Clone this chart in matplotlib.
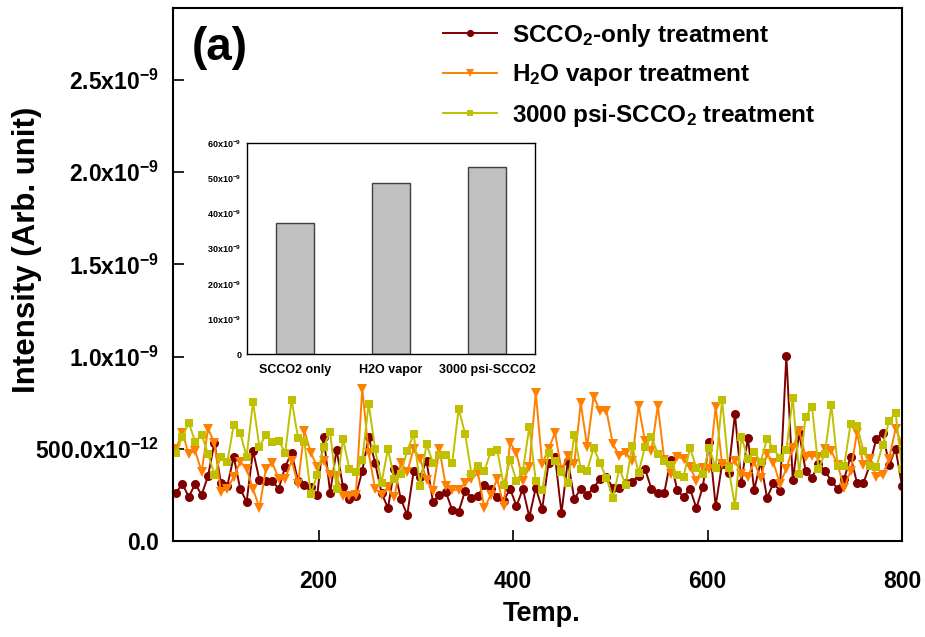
import numpy as np
import matplotlib
matplotlib.use("Agg")
import matplotlib.pyplot as plt

plt.rcParams['font.family'] = ['Liberation Sans', 'DejaVu Sans']
plt.rcParams['font.weight'] = 'bold'
plt.rcParams['mathtext.fontset'] = 'custom'
plt.rcParams['mathtext.rm'] = 'Liberation Sans:bold'
plt.rcParams['mathtext.bf'] = 'Liberation Sans:bold'
plt.rcParams['mathtext.it'] = 'Liberation Sans:bold:italic'
plt.rcParams['mathtext.default'] = 'rm'

# ---- data (intensity in units of 1e-12) ----
temp = np.linspace(53, 800, 114)
scco2_only = [261, 310, 239, 310, 250, 353, 533, 315, 299, 457, 283, 212, 489, 332, 326, 326,
              283, 402, 478, 326, 304, 293, 250, 565, 261, 495, 293, 228, 245, 380, 565, 424, 261,
              179, 391, 228, 141, 380, 348, 435, 212, 250, 266, 168, 158, 272, 234, 245, 304,
              283, 239, 217, 283, 190, 283, 130, 288, 174, 424, 457, 152, 435, 228, 283, 250,
              288, 337, 348, 288, 288, 315, 320, 353, 391, 283, 261, 261, 440, 277, 239, 283,
              179, 293, 538, 190, 418, 370, 690, 315, 560, 277, 429, 234, 315, 272, 1005, 332, 587,
              380, 342, 418, 380, 326, 283, 337, 457, 315, 315, 413, 555, 587, 413, 500, 299]
h2o_vapor = [500, 587, 473, 489, 375, 609, 533, 266, 283, 348, 429, 391, 283, 179, 391, 424,
             337, 337, 435, 310, 598, 478, 402, 435, 359, 353, 245, 245, 250, 826, 478, 283, 250,
             293, 239, 424, 375, 500, 446, 333, 272, 500, 299, 277, 277, 315, 337, 370, 179,
             250, 337, 190, 533, 478, 326, 402, 804, 418, 500, 587, 386, 462, 418, 750, 511,
             783, 707, 707, 527, 462, 478, 435, 734, 543, 489, 734, 440, 364, 457, 446, 402,
             326, 397, 391, 728, 418, 402, 435, 364, 348, 429, 342, 473, 424, 310, 391, 505, 598,
             457, 462, 457, 500, 489, 413, 288, 380, 587, 413, 446, 348, 359, 446, 609, 527]
psi3000 = [478, 565, 641, 538, 576, 473, 359, 457, 429, 630, 587, 457, 755, 511, 576, 538,
           543, 478, 766, 560, 538, 255, 359, 511, 592, 283, 554, 391, 375, 440, 745, 500, 315,
           500, 337, 364, 489, 582, 299, 527, 424, 467, 467, 424, 717, 582, 364, 408, 380,
           484, 495, 304, 440, 326, 380, 620, 326, 277, 478, 435, 375, 315, 576, 391, 380,
           505, 424, 342, 234, 391, 304, 516, 370, 511, 565, 473, 435, 413, 359, 348, 505,
           397, 364, 505, 397, 766, 397, 190, 565, 446, 484, 429, 554, 500, 451, 495, 777, 364,
           674, 728, 391, 473, 739, 408, 408, 636, 625, 489, 408, 402, 522, 652, 696, 391]
series_labels = ['SCCO$_{2}$-only treatment', 'H$_{2}$O vapor treatment', '3000 psi-SCCO$_{2}$ treatment']

yticks = [0, 0.5e-9, 1.0e-9, 1.5e-9, 2.0e-9, 2.5e-9]
ytick_labels = ['0.0', '500.0x10$^{-12}$', '1.0x10$^{-9}$', '1.5x10$^{-9}$', '2.0x10$^{-9}$', '2.5x10$^{-9}$']
xticks = [200, 400, 600, 800]

inset_cats = ['SCCO2 only', 'H2O vapor', '3000 psi-SCCO2']
inset_vals = [37.2e-9, 48.7e-9, 53.2e-9]
inset_yticks = [0, 10e-9, 20e-9, 30e-9, 40e-9, 50e-9, 60e-9]
inset_ytick_labels = ['0', '10x10$^{-9}$', '20x10$^{-9}$', '30x10$^{-9}$', '40x10$^{-9}$', '50x10$^{-9}$', '60x10$^{-9}$']

colors = ['#800000', '#FF8000', '#C0C000']
markers = ['o', 'v', 's']
msizes = [6.5, 7, 6]

fig = plt.figure(figsize=(9.25, 6.37), dpi=100)
ax = fig.add_axes([173/925, 1-541/637, (902-173)/925, (541-8)/637])

for vals, c, m, ms, lab in zip([scco2_only, h2o_vapor, psi3000], colors, markers, msizes, series_labels):
    ax.plot(temp, np.array(vals) * 1e-12, color=c, marker=m, markersize=ms, lw=1.4,
            markeredgewidth=0, label=lab)

ax.set_xlim(50, 800)
ax.set_ylim(0, 2.89e-9)
ax.set_xticks(xticks)
ax.set_xticklabels([str(t) for t in xticks])
ax.set_yticks(yticks)
ax.set_yticklabels(ytick_labels)
ax.tick_params(axis='x', direction='in', length=8, width=1.2, labelsize=16.5, pad=21)
ax.tick_params(axis='y', direction='in', length=8, width=1.2, labelsize=16.5, pad=10)
for sp in ax.spines.values():
    sp.set_linewidth(1.5)

fig.text(542/925, 1-614/637, 'Temp.', fontsize=19.5, fontweight='bold', ha='center', va='center')
fig.text(27/925, 1-250/637, 'Intensity (Arb. unit)', fontsize=22.5, fontweight='bold',
         ha='center', va='center', rotation=90)

fig.text(192/925, 1-48/637, '(a)', fontsize=33, fontweight='bold', ha='left', va='center')

leg = ax.legend(loc='upper left', bbox_to_anchor=(443/925, 1-22/637),
                bbox_transform=fig.transFigure, frameon=False, fontsize=17.5,
                handlelength=2.22, handletextpad=0.62, labelspacing=0.55, markerscale=0.8,
                borderaxespad=0, borderpad=0)

# inset
axi = fig.add_axes([247/925, 1-354/637, (535-247)/925, (354-143)/637])
axi.bar(range(len(inset_cats)), inset_vals, width=0.4, color='#C0C0C0',
        edgecolor='#404040', linewidth=1.0)
axi.set_xlim(-0.5, 2.5)
axi.set_ylim(0, 60e-9)
axi.set_xticks(range(len(inset_cats)))
axi.set_xticklabels(inset_cats, fontsize=9, fontweight='bold')
axi.set_yticks(inset_yticks)
axi.set_yticklabels(inset_ytick_labels, fontsize=6.5)
axi.tick_params(axis='x', length=0, pad=7)
axi.tick_params(axis='y', length=0, pad=4)
for sp in axi.spines.values():
    sp.set_linewidth(1.0)

fig.savefig('out.png', dpi=100)
